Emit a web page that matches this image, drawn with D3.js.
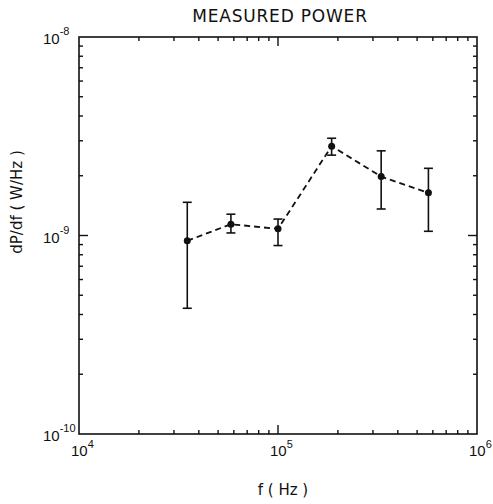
<!DOCTYPE html>
<html><head><meta charset="utf-8">
<script src="https://cdn.jsdelivr.net/npm/d3@7"></script>
<style>body{margin:0;background:#fff}text{font-family:"DejaVu Sans",sans-serif;fill:#111}.tl{font-family:"Liberation Sans",sans-serif}</style>
</head><body><svg id="c" width="493" height="504"></svg>
<script>
const freq = [3.5e4, 5.8e4, 1.0e5, 1.86e5, 3.3e5, 5.7e5];
const power = [0.94e-9, 1.14e-9, 1.08e-9, 2.82e-9, 1.98e-9, 1.64e-9];
const errHigh = [1.47e-9, 1.28e-9, 1.21e-9, 3.09e-9, 2.67e-9, 2.18e-9];
const errLow = [0.43e-9, 1.03e-9, 0.89e-9, 2.54e-9, 1.36e-9, 1.05e-9];
const xTickExps = [4, 5, 6];
const yTickExps = [-10, -9, -8];

const svg = d3.select("#c");
const L = 79, R = 477, T = 37, B = 434;
const x = d3.scaleLog().domain([1e4, 1e6]).range([L, R]);
const y = d3.scaleLog().domain([1e-10, 1e-8]).range([B, T]);
const ink = "#111";

// frame
svg.append("rect").attr("x", L).attr("y", T).attr("width", R - L).attr("height", B - T)
  .attr("fill", "none").attr("stroke", ink).attr("stroke-width", 1.6);

// ticks
const minorX = [], minorY = [];
for (let e = 4; e < 6; e++) for (let m = 2; m <= 9; m++) minorX.push(m * Math.pow(10, e));
for (let e = -10; e < -8; e++) for (let m = 2; m <= 9; m++) minorY.push(m * Math.pow(10, e));
const majX = xTickExps.slice(1, -1).map(e => Math.pow(10, e));
const majY = yTickExps.slice(1, -1).map(e => Math.pow(10, e));

function xt(vals, len) {
  svg.append("g").selectAll("line").data(vals).join("line")
    .attr("x1", d => x(d)).attr("x2", d => x(d)).attr("y1", B).attr("y2", B - len)
    .attr("stroke", ink).attr("stroke-width", 1.4);
  svg.append("g").selectAll("line").data(vals).join("line")
    .attr("x1", d => x(d)).attr("x2", d => x(d)).attr("y1", T).attr("y2", T + len)
    .attr("stroke", ink).attr("stroke-width", 1.4);
}
function yt(vals, len) {
  svg.append("g").selectAll("line").data(vals).join("line")
    .attr("y1", d => y(d)).attr("y2", d => y(d)).attr("x1", L).attr("x2", L + len)
    .attr("stroke", ink).attr("stroke-width", 1.4);
  svg.append("g").selectAll("line").data(vals).join("line")
    .attr("y1", d => y(d)).attr("y2", d => y(d)).attr("x1", R).attr("x2", R - len)
    .attr("stroke", ink).attr("stroke-width", 1.4);
}
xt(minorX, 4); xt(majX, 9);
yt(minorY, 4); yt(majY, 9);

// x tick labels
xTickExps.forEach(e => {
  const t = svg.append("text").attr("class", "tl").attr("x", x(Math.pow(10, e)) - 8).attr("y", 456)
    .attr("font-size", 15);
  t.append("tspan").text("10");
  t.append("tspan").attr("dy", -8).attr("font-size", 11).text(e);
});
// y tick labels
yTickExps.forEach(e => {
  const yy = y(Math.pow(10, e));
  const t = svg.append("text").attr("class", "tl").attr("x", 43).attr("y", yy + 7).attr("font-size", 15);
  t.append("tspan").text("10");
  t.append("tspan").attr("dy", -9).attr("font-size", 11).text(e);
});

// title and axis labels
svg.append("text").attr("x", 280).attr("y", 22).attr("text-anchor", "middle")
  .attr("font-size", 17).attr("letter-spacing", 0.8).text("MEASURED POWER");
svg.append("text").attr("x", 283).attr("y", 495).attr("text-anchor", "middle")
  .attr("font-size", 15).text("f ( Hz )");
svg.append("text").attr("transform", "translate(22,202) rotate(-90)").attr("text-anchor", "middle")
  .attr("font-size", 15).text("dP/df ( W/Hz )");

// data
const pts = freq.map((f, i) => ({f, p: power[i], hi: errHigh[i], lo: errLow[i]}));
svg.append("path").datum(pts)
  .attr("d", d3.line().x(d => x(d.f)).y(d => y(d.p)))
  .attr("fill", "none").attr("stroke", ink).attr("stroke-width", 1.8)
  .attr("stroke-dasharray", "6,4");
const eb = svg.append("g").attr("stroke", ink).attr("stroke-width", 1.6);
pts.forEach(d => {
  const cx = x(d.f);
  eb.append("line").attr("x1", cx).attr("x2", cx).attr("y1", y(d.hi)).attr("y2", y(d.lo));
  eb.append("line").attr("x1", cx - 4.5).attr("x2", cx + 4.5).attr("y1", y(d.hi)).attr("y2", y(d.hi));
  eb.append("line").attr("x1", cx - 4.5).attr("x2", cx + 4.5).attr("y1", y(d.lo)).attr("y2", y(d.lo));
});
svg.append("g").selectAll("circle").data(pts).join("circle")
  .attr("cx", d => x(d.f)).attr("cy", d => y(d.p)).attr("r", 3.5).attr("fill", ink);
</script></body></html>
